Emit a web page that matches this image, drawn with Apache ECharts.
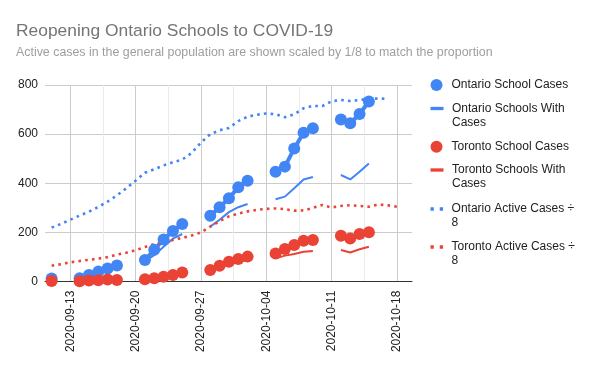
<!DOCTYPE html>
<html>
<head>
<meta charset="utf-8">
<script src="https://cdn.jsdelivr.net/npm/echarts@6/dist/echarts.min.js"></script>
<style>html,body{margin:0;padding:0;background:#fff}#c{width:600px;height:371px}</style>
</head>
<body>
<div id="c"></div>
<script>
// ---- data ----
const dates = ['2020-09-11','2020-09-12','2020-09-13','2020-09-14','2020-09-15','2020-09-16','2020-09-17','2020-09-18','2020-09-19','2020-09-20',
  '2020-09-21','2020-09-22','2020-09-23','2020-09-24','2020-09-25','2020-09-26','2020-09-27','2020-09-28','2020-09-29','2020-09-30',
  '2020-10-01','2020-10-02','2020-10-03','2020-10-04','2020-10-05','2020-10-06','2020-10-07','2020-10-08','2020-10-09','2020-10-10',
  '2020-10-11','2020-10-12','2020-10-13','2020-10-14','2020-10-15','2020-10-16','2020-10-17','2020-10-18'];
const ontarioSchoolCases = [13,null,null,14,27,41,54,66,null,null, 88,130,172,206,235,null,null,268,303,339,
  384,411,null,null,447,468,542,606,624,null, null,660,644,682,733,null,null,null];
const ontarioSchoolsWithCases = [null,null,null,13,25,38,50,61,null,null, 85,108,142,175,194,null,null,224,252,283,
  303,316,null,null,335,346,380,416,426,null, null,434,416,447,481,null,null,null];
const torontoSchoolCases = [3,null,null,2,5,6,9,7,null,null, 10,14,20,27,37,null,null,48,65,81,
  92,102,null,null,115,133,149,167,170,null, null,187,176,194,201,null,null,null];
const torontoSchoolsWithCases = [null,null,null,2,4,5,7,6,null,null, 8,12,17,23,30,null,null,42,58,71,
  80,88,null,null,95,106,113,122,125,null, null,129,119,132,142,null,null,null];
const ontarioActive8 = [220,235,252,269,285,304,326,351,380,411, 443,457,473,486,497,523,566,600,616,625,
  653,671,679,684,681,669,681,705,715,714, 734,739,735,739,744,745,744,null];
const torontoActive8 = [65,71,79,84,89,94,100,110,118,128, 141,153,160,170,178,188,200,224,246,266,
  277,286,292,296,298,295,289,290,300,312, 302,308,311,308,305,314,311,305];
const xTickDates = ['2020-09-13','2020-09-20','2020-09-27','2020-10-04','2020-10-11','2020-10-18'];
const yTicks = [0,200,400,600,800];
const seriesNames = ['Ontario School Cases','Ontario Schools With Cases','Toronto School Cases','Toronto Schools With Cases','Ontario Active Cases ÷ 8','Toronto Active Cases ÷ 8'];

// ---- build ----
const DAY = 86400000;
const ts = d => Date.parse(d + 'T00:00:00Z');
const pairs = vals => dates.map((d, i) => [ts(d), vals[i]]);
const xMin = ts('2020-09-10') + 0.29 * DAY;
const xMax = ts('2020-10-19') + 0.62 * DAY;
const majorTicks = xTickDates.map(ts);
const minorTicks = majorTicks.map(t => t + 3.5 * DAY).concat([majorTicks[0] - 3.5 * DAY]);
const FONT = "'Liberation Sans', Arial, sans-serif";
const BLUE = '#4285F4', RED = '#EA4335';
const pad2 = n => (n < 10 ? '0' : '') + n;
const fmt = v => { const d = new Date(v); return d.getUTCFullYear() + '-' + pad2(d.getUTCMonth() + 1) + '-' + pad2(d.getUTCDate()); };

const dotIcon = 'path://M0,0h1v1h-1z M2.8,0h1v1h-1z';
function mkLegend(name, icon, top, w, h, twoLine) {
  return {
    orient: 'vertical', left: 430.5, top: top, padding: 0, selectedMode: false,
    itemWidth: w, itemHeight: h, itemStyle: { borderWidth: 0 },
    data: [{ name: name, icon: icon }],
    formatter: n => twoLine ? '\n' + n.replace(/ (\S+)$/, '\n$1') : n,
    textStyle: { fontSize: 12, color: '#222', fontFamily: FONT, lineHeight: 14, padding: [0, 0, 0, 3.5] }
  };
}

const option = {
  animation: false,
  backgroundColor: '#fff',
  textStyle: { fontFamily: FONT },
  title: [
    { text: 'Reopening Ontario Schools to COVID-19', left: 16, top: 22.5, padding: 0,
      textStyle: { fontSize: 17.4, fontWeight: 'normal', color: '#757575', fontFamily: FONT } },
    { text: 'Active cases in the general population are shown scaled by 1/8 to match the proportion', left: 16, top: 47, padding: 0,
      textStyle: { fontSize: 12.4, fontWeight: 'normal', color: '#9e9e9e', fontFamily: FONT } }
  ],
  legend: [
    mkLegend(seriesNames[0], 'circle', 78, 13, 12, false),
    mkLegend(seriesNames[1], 'rect', 87.5, 13, 3.3, true),
    mkLegend(seriesNames[2], 'circle', 139.7, 13, 12, false),
    mkLegend(seriesNames[3], 'rect', 149, 13, 3.3, true),
    mkLegend(seriesNames[4], dotIcon, 188, 12.6, 3.3, true),
    mkLegend(seriesNames[5], dotIcon, 226, 12.6, 3.3, true)
  ],
  grid: { left: 45, right: 188, top: 85, bottom: 89.3, containLabel: false },
  xAxis: [
    { type: 'value', min: xMin, max: xMax, scale: true,
      axisLine: { show: true, onZero: false, lineStyle: { color: '#333', width: 1 } },
      axisTick: { show: false, customValues: majorTicks },
      axisLabel: { customValues: majorTicks, rotate: 90, margin: 9, fontSize: 12, color: '#222', fontFamily: FONT, formatter: fmt, hideOverlap: false },
      splitLine: { show: true, lineStyle: { color: '#cccccc', width: 1 } } },
    { type: 'value', min: xMin, max: xMax, scale: true, position: 'top',
      axisLine: { show: false }, axisLabel: { show: false },
      axisTick: { show: false, customValues: minorTicks },
      splitLine: { show: true, lineStyle: { color: '#ebebeb', width: 1 } } }
  ],
  yAxis: {
    type: 'value', min: yTicks[0], max: yTicks[yTicks.length - 1], interval: 200,
    axisLine: { show: false }, axisTick: { show: false },
    axisLabel: { fontSize: 12, color: '#222', margin: 7, fontFamily: FONT },
    splitLine: { lineStyle: { color: '#cccccc', width: 1 } }
  },
  series: [
    { name: seriesNames[0], type: 'line', data: pairs(ontarioSchoolCases), color: BLUE,
      symbol: 'circle', symbolSize: 12, showAllSymbol: true, connectNulls: false,
      lineStyle: { width: 4 }, itemStyle: { borderWidth: 0 }, emphasis: { disabled: true }, z: 3 },
    { name: seriesNames[1], type: 'line', data: pairs(ontarioSchoolsWithCases), color: BLUE,
      showSymbol: false, connectNulls: false, lineStyle: { width: 2 }, emphasis: { disabled: true }, z: 3 },
    { name: seriesNames[2], type: 'line', data: pairs(torontoSchoolCases), color: RED,
      symbol: 'circle', symbolSize: 12, showAllSymbol: true, connectNulls: false,
      lineStyle: { width: 4 }, itemStyle: { borderWidth: 0 }, emphasis: { disabled: true }, z: 3 },
    { name: seriesNames[3], type: 'line', data: pairs(torontoSchoolsWithCases), color: RED,
      showSymbol: false, connectNulls: false, lineStyle: { width: 2 }, emphasis: { disabled: true }, z: 3 },
    { name: seriesNames[4], type: 'line', data: pairs(ontarioActive8), color: BLUE,
      showSymbol: false, connectNulls: false, lineStyle: { width: 2.6, type: [2.6, 4.2], cap: 'butt' }, emphasis: { disabled: true }, z: 3 },
    { name: seriesNames[5], type: 'line', data: pairs(torontoActive8), color: RED,
      showSymbol: false, connectNulls: false, lineStyle: { width: 2.6, type: [2.6, 4.2], cap: 'butt' }, emphasis: { disabled: true }, z: 3 }
  ]
};
const chart = echarts.init(document.getElementById('c'), null, { renderer: 'canvas' });
chart.setOption(option);
</script>
</body>
</html>
